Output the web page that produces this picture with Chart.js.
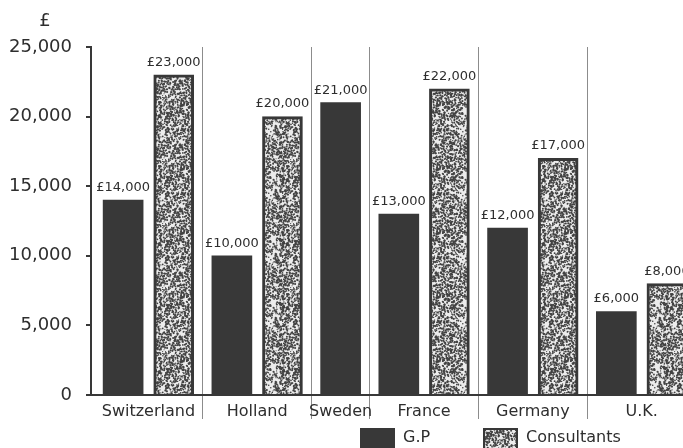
<!DOCTYPE html>
<html>
<head>
<meta charset="utf-8">
<script src="https://cdn.jsdelivr.net/npm/chart.js@4"></script>
<style>
  html, body { margin: 0; padding: 0; background: #fff; overflow: hidden; }
  #wrap { width: 700px; height: 448px; }
</style>
</head>
<body>
<div id="wrap"><canvas id="salaryChart" width="700" height="448"></canvas></div>
<script>
const countries = ['Switzerland', 'Holland', 'Sweden', 'France', 'Germany', 'U.K.'];
const gpSalaries = [14000, 10000, 21000, 13000, 12000, 6000];
const consultantSalaries = [23000, 20000, null, 22000, 17000, 8000];
const seriesNames = ['G.P', 'Consultants'];
const yTicks = [0, 5000, 10000, 15000, 20000, 25000];

const INK = '#383838';
const TEXT = '#2e2e2e';
const FONT = "'DejaVu Sans', sans-serif";

// speckled fill used for the consultants' bars (dots wrap round the tile edges)
function makeStipple() {
    const S = 64;
    const c = document.createElement('canvas');
    c.width = c.height = S;
    const g = c.getContext('2d');
    g.fillStyle = '#ececec';
    g.fillRect(0, 0, S, S);
    g.fillStyle = '#424242';
    let seed = 123457;
    const next = () => {
        seed ^= seed << 13; seed ^= seed >>> 17; seed ^= seed << 5;
        return (seed >>> 0) / 4294967296;
    };
    for (let i = 0; i < 1350; i++) {
        const x = next() * S, y = next() * S, r = 0.55 + next() * 0.6;
        for (const dx of [-S, 0, S]) {
            for (const dy of [-S, 0, S]) {
                g.beginPath();
                g.arc(x + dx, y + dy, r, 0, Math.PI * 2);
                g.fill();
            }
        }
    }
    return g.createPattern(c, 'repeat');
}
const stipple = makeStipple();

// lay the bars out country by country; Sweden only has one bar so its group is narrower
const EDGE = 0.575;
const gpPoints = [];
const consultantPoints = [];
const boundaries = [];
const centres = [];
let pos = 0;
countries.forEach((name, i) => {
    const present = [gpSalaries[i], consultantSalaries[i]]
        .map((v, k) => ({ v, k }))
        .filter(p => p.v != null);
    present.forEach((p, j) => {
        (p.k === 0 ? gpPoints : consultantPoints).push({ x: pos + EDGE + j, y: p.v });
    });
    const width = 2 * EDGE + present.length - 1;
    centres.push({ value: pos + width / 2, label: name });
    pos += width;
    if (i < countries.length - 1) boundaries.push(pos);
});
const isBoundary = v => boundaries.some(b => Math.abs(b - v) < 1e-6);

const valueLabels = {
    id: 'valueLabels',
    afterDatasetsDraw(chart) {
        const ctx = chart.ctx;
        ctx.save();
        ctx.font = `13px ${FONT}`;
        ctx.fillStyle = TEXT;
        ctx.textAlign = 'center';
        ctx.textBaseline = 'bottom';
        chart.data.datasets.forEach((ds, i) => {
            chart.getDatasetMeta(i).data.forEach((bar, j) => {
                ctx.fillText('£' + ds.data[j].y.toLocaleString('en-GB'), bar.x, bar.y - 6);
            });
        });
        ctx.restore();
    }
};

// currency mark over the y axis and the key at the bottom
const extras = {
    id: 'extras',
    afterDraw(chart) {
        const ctx = chart.ctx;
        ctx.save();
        ctx.fillStyle = TEXT;
        ctx.font = `18px ${FONT}`;
        ctx.textAlign = 'center';
        ctx.textBaseline = 'middle';
        ctx.fillText('£', 45, 21);

        const keys = [
            { x: 360, fill: INK, border: false },
            { x: 483, fill: stipple, border: true }
        ];
        ctx.font = `16px ${FONT}`;
        ctx.textAlign = 'left';
        keys.forEach((k, i) => {
            ctx.fillStyle = k.fill;
            ctx.fillRect(k.x, 428, 35, 22);
            if (k.border) {
                ctx.strokeStyle = INK;
                ctx.lineWidth = 2;
                ctx.strokeRect(k.x + 1, 429, 33, 22);
            }
            ctx.fillStyle = TEXT;
            ctx.fillText(seriesNames[i], k.x + 43, 438);
        });
        ctx.restore();
    }
};

new Chart(document.getElementById('salaryChart'), {
    type: 'bar',
    data: {
        datasets: [
            { label: seriesNames[0], data: gpPoints, backgroundColor: INK, borderWidth: 0 },
            { label: seriesNames[1], data: consultantPoints, backgroundColor: stipple, borderColor: INK, borderWidth: 3 }
        ]
    },
    options: {
        responsive: false,
        animation: false,
        grouped: false,
        barThickness: 40,
        layout: { padding: { top: 47, right: 4, left: 0, bottom: 0 } },
        plugins: { legend: { display: false }, tooltip: { enabled: false } },
        scales: {
            x: {
                type: 'linear',
                offset: false,
                min: -0.06,
                max: pos,
                afterBuildTicks: scale => {
                    scale.ticks = boundaries.map(v => ({ value: v }))
                        .concat(centres.map(c => ({ value: c.value })))
                        .sort((a, b) => a.value - b.value);
                },
                afterFit: scale => { scale.height = 53; },
                grid: {
                    offset: false,
                    drawOnChartArea: true,
                    drawTicks: true,
                    tickLength: 24,
                    lineWidth: 1,
                    color: ctx => (ctx.tick && isBoundary(ctx.tick.value)) ? '#8c8c8c' : 'rgba(0,0,0,0)'
                },
                border: { display: true, color: INK, width: 2 },
                ticks: {
                    autoSkip: false,
                    maxRotation: 0,
                    minRotation: 0,
                    padding: -17,
                    color: TEXT,
                    font: { family: FONT, size: 16 },
                    callback: value => {
                        const c = centres.find(c => Math.abs(c.value - value) < 1e-6);
                        return c ? c.label : '';
                    }
                }
            },
            y: {
                min: yTicks[0],
                max: yTicks[yTicks.length - 1],
                afterBuildTicks: scale => { scale.ticks = yTicks.map(v => ({ value: v })); },
                afterFit: scale => { scale.width = 91; },
                grid: { drawOnChartArea: false, drawTicks: true, tickLength: 5, color: INK, lineWidth: 2 },
                border: { display: true, color: INK, width: 2 },
                ticks: {
                    padding: 14,
                    color: TEXT,
                    font: { family: FONT, size: 18 },
                    callback: v => v.toLocaleString('en-GB')
                }
            }
        }
    },
    plugins: [valueLabels, extras]
});
</script>
</body>
</html>
